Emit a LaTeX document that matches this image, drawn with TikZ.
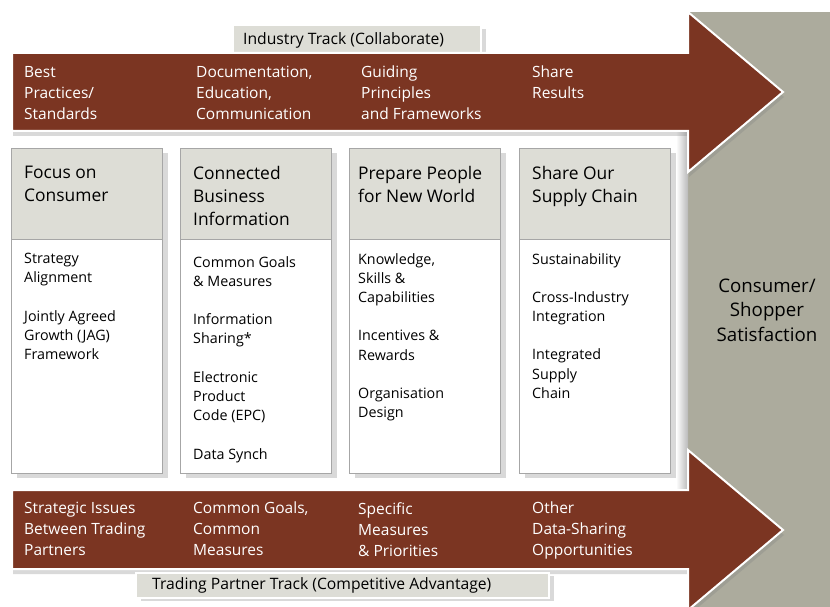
\documentclass[tikz,border=0pt]{standalone}
\usepackage{fontspec}
\setmainfont{Open Sans}
\usetikzlibrary{shadows}

\definecolor{trackred}{HTML}{7B3522}
\definecolor{headgrey}{HTML}{DDDDD6}
\definecolor{panelgrey}{HTML}{ACAB9D}

\tikzstyle{track}=[fill=trackred,draw=white,line width=2pt,drop shadow={shadow xshift=1pt,shadow yshift=-5pt,opacity=0.3}]
\tikzstyle{tracktext}=[anchor=north west,align=left,inner sep=0pt,text=white,font=\fontsize{15.5}{21}\selectfont]
\tikzstyle{labelbox}=[fill=headgrey,draw=white,line width=1.5pt,drop shadow={shadow xshift=5pt,shadow yshift=-3pt,opacity=0.3}]
\tikzstyle{tracklabel}=[anchor=west,inner sep=0pt,font=\fontsize{15.7}{19}\selectfont]
\tikzstyle{headbox}=[anchor=north west,minimum width=151pt,minimum height=91pt,inner sep=0pt,fill=headgrey,draw=gray!70,drop shadow={shadow xshift=6pt,shadow yshift=-5pt,opacity=0.3}]
\tikzstyle{bodybox}=[anchor=north west,minimum width=151pt,minimum height=234pt,inner sep=0pt,fill=white,draw=gray!70,drop shadow={shadow xshift=6pt,shadow yshift=-5pt,opacity=0.3}]
\tikzstyle{headtext}=[anchor=north west,align=left,inner sep=0pt,font=\fontsize{17.4}{23}\selectfont]
\tikzstyle{bodytext}=[anchor=north west,align=left,inner sep=0pt,font=\fontsize{14.3}{19.3}\selectfont]

\begin{document}
\begin{tikzpicture}[x=1pt,y=-1pt]
        \useasboundingbox (0,0) rectangle (830,607);
        % goal panel
        \fill[panelgrey] (688,12) rectangle (830,607);
        \shade[left color=white,right color=gray!55] (676,131) rectangle (688,490);
        \node[align=center,inner sep=0pt,font=\fontsize{18.7}{24.5}\selectfont] (goal) at (767,310) {Consumer/\\Shopper\\Satisfaction};

        % industry track
        \node[labelbox,minimum width=248pt,minimum height=27pt,anchor=north west,inner sep=0pt] (indbox) at (232,25) {};
        \node[tracklabel] (ind) at (243,40) {Industry Track (Collaborate)};
        \draw[track] (12,53) -- (688,53) -- (688,12) -- (783,92) -- (688,172) -- (688,131) -- (12,131) -- cycle;
        \node[tracktext] (t1) at (24,66) {Best\\Practices/\\Standards};
        \node[tracktext] (t2) at (196,66) {Documentation,\\Education,\\Communication};
        \node[tracktext] (t3) at (361,66) {Guiding\\Principles\\and Frameworks};
        \node[tracktext] (t4) at (532,66) {Share\\Results};

        % columns
        \node[headbox] (h1) at (11,148) {};
        \node[bodybox] (b1) at (11,239) {};
        \node[headbox] (h2) at (180,148) {};
        \node[bodybox] (b2) at (180,239) {};
        \node[headbox] (h3) at (349,148) {};
        \node[bodybox] (b3) at (349,239) {};
        \node[headbox] (h4) at (519,148) {};
        \node[bodybox] (b4) at (519,239) {};

        \node[headtext] (h1t) at (24,166) {Focus on\\Consumer};
        \node[headtext] (h2t) at (193,166) {Connected\\Business\\Information};
        \node[headtext] (h3t) at (358,166) {Prepare People\\for New World};
        \node[headtext] (h4t) at (532,166) {Share Our\\Supply Chain};

        \node[bodytext] (b1t) at (24,253) {Strategy\\Alignment\\[19pt]Jointly Agreed\\Growth (JAG)\\Framework};
        \node[bodytext] (b2t) at (193,256) {Common Goals\\\& Measures\\[19pt]Information\\Sharing*\\[19pt]Electronic\\Product\\Code (EPC)\\[19pt]Data Synch};
        \node[bodytext] (b3t) at (358,253) {Knowledge,\\Skills \&\\Capabilities\\[19pt]Incentives \&\\Rewards\\[19pt]Organisation\\Design};
        \node[bodytext] (b4t) at (532,253) {Sustainability\\[19pt]Cross-Industry\\Integration\\[19pt]Integrated\\Supply\\Chain};

        % trading partner track
        \draw[track] (12,490) -- (688,490) -- (688,450) -- (783,530) -- (688,610) -- (688,569) -- (12,569) -- cycle;
        \node[tracktext] (p1) at (24,502) {Strategic Issues\\Between Trading\\Partners};
        \node[tracktext] (p2) at (193,502) {Common Goals,\\Common\\Measures};
        \node[tracktext] (p3) at (358,502) {Specific\\Measures\\\& Priorities};
        \node[tracktext] (p4) at (532,502) {Other\\Data-Sharing\\Opportunities};
        \node[labelbox,minimum width=413pt,minimum height=25pt,anchor=north west,inner sep=0pt] (tradbox) at (135,572) {};
        \node[tracklabel] (trad) at (152,585) {Trading Partner Track (Competitive Advantage)};
    \end{tikzpicture}
\end{document}
